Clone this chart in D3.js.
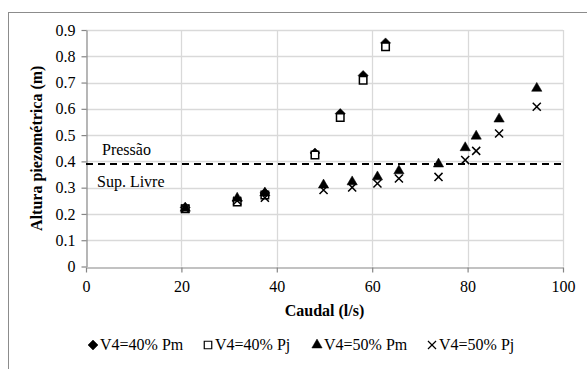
<!DOCTYPE html>
<html>
<head>
<meta charset="utf-8">
<script src="https://cdn.jsdelivr.net/npm/d3@7"></script>
<style>
  html, body { margin: 0; padding: 0; background: #fff; }
  svg { display: block; }
  svg text { font-family: "Liberation Serif", "Times New Roman", serif; }
</style>
</head>
<body>
<svg id="chart" width="587" height="369"></svg>
<script>
// Flow (l/s) and piezometric height (m) per series
const pm40 = [[20.8,0.225],[31.7,0.25],[37.5,0.28],[48.0,0.432],[53.3,0.582],[58.1,0.727],[62.8,0.851]];
const pj40 = [[20.8,0.22],[31.7,0.245],[37.5,0.272],[48.0,0.424],[53.3,0.567],[58.1,0.709],[62.8,0.836]];
const pm50 = [[20.8,0.222],[31.7,0.26],[37.5,0.28],[49.8,0.31],[55.8,0.322],[61.1,0.341],[65.6,0.364],[73.9,0.39],[79.5,0.452],[81.8,0.496],[86.6,0.561],[94.5,0.678]];
const pj50 = [[20.8,0.22],[31.7,0.25],[37.5,0.262],[49.8,0.291],[55.8,0.301],[61.1,0.316],[65.6,0.335],[73.9,0.341],[79.5,0.405],[81.8,0.44],[86.6,0.506],[94.5,0.608]];

const xTicks = [0, 20, 40, 60, 80, 100];
const yTicks = [0, 0.1, 0.2, 0.3, 0.4, 0.5, 0.6, 0.7, 0.8, 0.9];
const threshold = 0.39;
const seriesNames = ["V4=40% Pm", "V4=40% Pj", "V4=50% Pm", "V4=50% Pj"];

const svg = d3.select("#chart");
const W = 587, H = 369;
const plot = { left: 86, right: 563, top: 30, bottom: 266.5 };

const x = d3.scaleLinear().domain([0, 100]).range([plot.left, plot.right]);
const y = d3.scaleLinear().domain([0, 0.9]).range([plot.bottom, plot.top]);

// chart frame
svg.append("rect")
  .attr("x", 8.5).attr("y", 12.5)
  .attr("width", W + 10).attr("height", H + 10)
  .attr("fill", "#fff").attr("stroke", "#8c8c8c").attr("stroke-width", 1);

// gridlines
svg.append("g").selectAll("line").data(yTicks.slice(1)).join("line")
  .attr("x1", plot.left).attr("x2", plot.right)
  .attr("y1", d => Math.round(y(d)) + 0.5).attr("y2", d => Math.round(y(d)) + 0.5)
  .attr("stroke", "#d9d9d9").attr("stroke-width", 1.3);
svg.append("g").selectAll("line").data(xTicks.slice(1)).join("line")
  .attr("y1", plot.top).attr("y2", plot.bottom)
  .attr("x1", d => Math.round(x(d)) + 0.5).attr("x2", d => Math.round(x(d)) + 0.5)
  .attr("stroke", "#d9d9d9").attr("stroke-width", 1.3);

// axes
const xAxis = svg.append("g")
  .attr("transform", `translate(0,${Math.round(plot.bottom) + 0.5})`)
  .call(d3.axisBottom(x).tickValues(xTicks).tickSize(5).tickPadding(8).tickSizeOuter(0));
const yAxis = svg.append("g")
  .attr("transform", `translate(${plot.left + 0.5},0)`)
  .call(d3.axisLeft(y).tickValues(yTicks).tickSize(5).tickPadding(6).tickSizeOuter(0)
    .tickFormat(d => d === 0 ? "0" : d3.format(".1f")(d)));
[xAxis, yAxis].forEach(g => {
  g.attr("font-family", null).attr("font-size", null);
  g.selectAll("path, line").attr("stroke", "#868686").attr("stroke-width", 1.2);
  g.selectAll("text").attr("fill", "#000").attr("font-size", 16);
});

// regime boundary
svg.append("line")
  .attr("x1", plot.left).attr("x2", plot.right)
  .attr("y1", y(threshold)).attr("y2", y(threshold))
  .attr("stroke", "#000").attr("stroke-width", 2).attr("stroke-dasharray", "7,5");
svg.append("text").attr("x", 102).attr("y", 155).attr("font-size", 16).text("Pressão");
svg.append("text").attr("x", 97).attr("y", 187).attr("font-size", 16).text("Sup. Livre");

// markers
const diamondPath = "M0,-5L5,0L0,5L-5,0Z";
const sym = {
  diamond: () => diamondPath,
  square: d3.symbol().type(d3.symbolSquare).size(56),
  triangle: d3.symbol().type(d3.symbolTriangle).size(46),
  cross: d3.symbol().type(d3.symbolX).size(44)
};
function styleMarker(sel, kind, sw) {
  sel.attr("d", sym[kind]())
    .attr("fill", kind === "square" ? "#fff" : (kind === "cross" ? "none" : "#000"))
    .attr("stroke", "#000")
    .attr("stroke-width", kind === "diamond" || kind === "triangle" ? 0.5 : sw);
}
function drawSeries(data, kind) {
  svg.append("g").selectAll("path").data(data).join("path")
    .attr("transform", d => `translate(${x(d[0])},${y(d[1])})`)
    .call(styleMarker, kind, 1.5);
}
drawSeries(pm40, "diamond");
drawSeries(pj40, "square");
drawSeries(pm50, "triangle");
drawSeries(pj50, "cross");

// axis titles
svg.append("text").attr("x", (plot.left + plot.right) / 2).attr("y", 316)
  .attr("text-anchor", "middle").attr("font-size", 16).attr("font-weight", "bold")
  .text("Caudal (l/s)");
svg.append("text")
  .attr("transform", `translate(42,${(plot.top + plot.bottom) / 2}) rotate(-90)`)
  .attr("text-anchor", "middle").attr("font-size", 16).attr("font-weight", "bold")
  .text("Altura piezométrica (m)");

// legend
const kinds = ["diamond", "square", "triangle", "cross"];
const legX = [93, 208, 317, 432];
const legY = 350;
kinds.forEach((k, i) => {
  svg.append("path")
    .attr("transform", `translate(${legX[i]},${legY - 5})`)
    .call(styleMarker, k, 1.2);
  svg.append("text").attr("x", legX[i] + 7).attr("y", legY)
    .attr("font-size", 16).text(seriesNames[i]);
});
</script>
</body>
</html>
